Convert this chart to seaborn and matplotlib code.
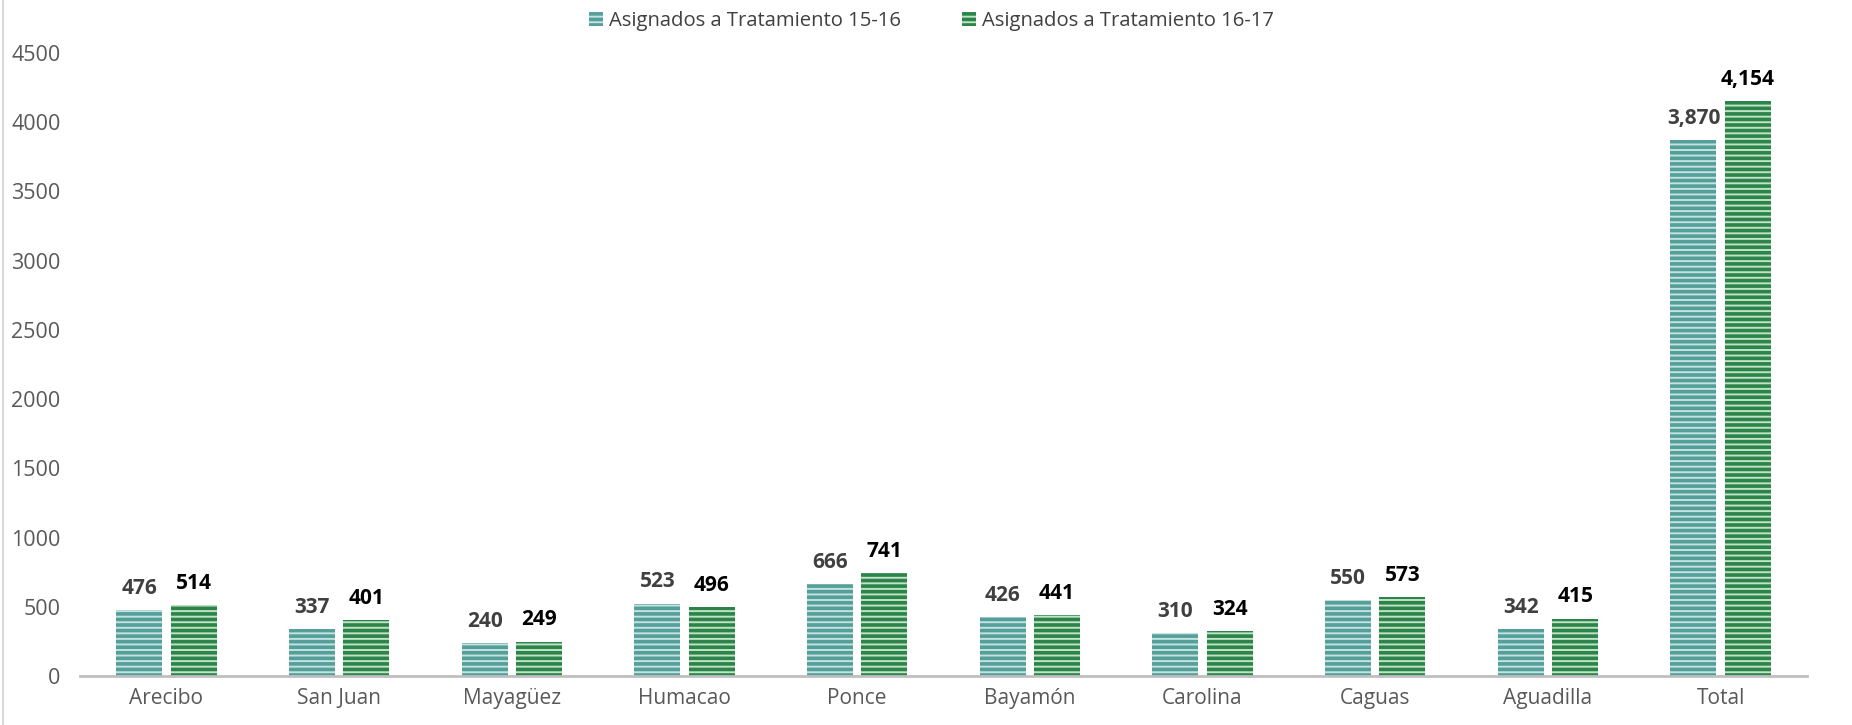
import pandas as pd
import matplotlib
matplotlib.use('Agg')
import matplotlib.pyplot as plt
import seaborn as sns
from matplotlib.patches import Patch
from matplotlib.lines import Line2D

# Datos del gráfico
regiones = ['Arecibo', 'San Juan', 'Mayagüez', 'Humacao', 'Ponce',
            'Bayamón', 'Carolina', 'Caguas', 'Aguadilla', 'Total']
asignados_15_16 = [476, 337, 240, 523, 666, 426, 310, 550, 342, 3870]
asignados_16_17 = [514, 401, 249, 496, 741, 441, 324, 573, 415, 4154]
series = ['Asignados a Tratamiento 15-16', 'Asignados a Tratamiento 16-17']
yticks = [0, 500, 1000, 1500, 2000, 2500, 3000, 3500, 4000, 4500]

df = pd.DataFrame({
    'Region': regiones * 2,
    'Serie': [series[0]] * len(regiones) + [series[1]] * len(regiones),
    'Valor': asignados_15_16 + asignados_16_17,
})

sns.set_theme(style='white')
plt.rcParams['font.family'] = ['Open Sans', 'DejaVu Sans']
plt.rcParams['hatch.linewidth'] = 2.6

caras = ['#c4e2df', '#c2e2c8']
rayas = ['#559f9a', '#2b8549']

fig = plt.figure(figsize=(18.52, 7.25), dpi=100)
ax = fig.add_axes([0.0432, 0.0676, 0.9325, 0.8594])

sns.barplot(data=df, x='Region', y='Valor', hue='Serie', palette=caras,
            width=0.63, gap=0.155, ax=ax, legend=False, saturation=1)

# Rayas horizontales en las barras
for i, cont in enumerate(ax.containers):
    for barra in cont:
        barra.set_hatch('---')
        barra.set_edgecolor(rayas[i])
        barra.set_linewidth(0)
    etiquetas = ['{:,.0f}'.format(v.get_height()) for v in cont]
    ax.bar_label(cont, labels=etiquetas, padding=8, fontsize=15,
                 fontweight='bold', color=['#404040', '#000000'][i])

ax.set_xlim(-0.5, len(regiones) - 0.5)
ax.set_ylim(0, 4500)
ax.set_yticks(yticks)
ax.set_xlabel('')
ax.set_ylabel('')
ax.tick_params(axis='y', length=0, pad=14, labelsize=15.5, labelcolor='#595959')
ax.tick_params(axis='x', length=0, pad=9, labelsize=15, labelcolor='#595959')
for s in ['top', 'right', 'left']:
    ax.spines[s].set_visible(False)
ax.spines['bottom'].set_color('#bfbfbf')
ax.spines['bottom'].set_linewidth(2)

handles = [Patch(facecolor=caras[i], edgecolor=rayas[i], hatch='---', linewidth=0)
           for i in range(2)]
fig.legend(handles, series, loc='upper center', bbox_to_anchor=(0.503, 1.01),
           ncol=2, frameon=False, fontsize=14.6, labelcolor='#404040',
           handlelength=0.7, handleheight=0.7, handletextpad=0.3, columnspacing=3.0)

# borde izquierdo del área del gráfico
fig.add_artist(Line2D([0.0018, 0.0018], [0, 1], color='#d9d9d9', lw=1.5,
                      transform=fig.transFigure))

fig.savefig('out.png', dpi=100)
